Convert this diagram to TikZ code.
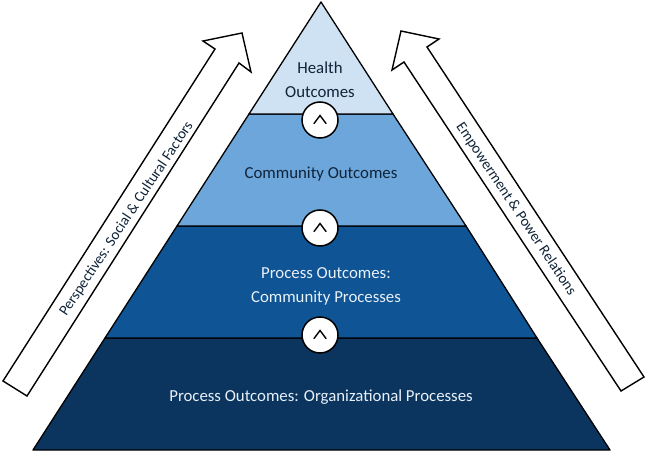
\documentclass[tikz,border=0pt]{standalone}
\usepackage{fontspec}
\setmainfont{Carlito}
\definecolor{tierA}{HTML}{CFE2F3}
\definecolor{tierB}{HTML}{6CA6DA}
\definecolor{tierC}{HTML}{0F5495}
\definecolor{tierD}{HTML}{0B355F}
\definecolor{inkDark}{HTML}{10243A}
\definecolor{inkLight}{HTML}{E8F0F8}
\tikzset{
  px/.style={x=1pt,y=-1pt},
  tier/.style={draw=black,line width=1.3pt,line join=round},
  sidearrow/.style={draw=black,fill=white,line width=1.4pt,line join=miter},
  link/.style={circle,draw=black,fill=white,line width=1.5pt,minimum size=36pt,inner sep=0pt},
  caret/.style={draw=black,line width=1.4pt,line cap=round,line join=miter},
  tiertext/.style={font=\fontsize{16.8}{18}\selectfont,align=center,inner sep=0pt},
  sidetext/.style={font=\fontsize{14.9}{18}\selectfont,text=inkDark,inner sep=0pt}
}
\begin{document}
\begin{tikzpicture}[px]
\useasboundingbox (0,0) rectangle (648,454);
% pyramid tiers, base upward
\path[tier,fill=tierD] (33,450) -- (105,338) -- (537,338) -- (610,450) -- cycle;
\path[tier,fill=tierC] (105,338) -- (177,226) -- (466,226) -- (537,338) -- cycle;
\path[tier,fill=tierB] (177,226) -- (249,114) -- (393,114) -- (466,226) -- cycle;
\path[tier,fill=tierA] (249,114) -- (321,2) -- (393,114) -- cycle;
% side arrows
\path[sidearrow] (3,381) -- (215,49) -- (203,41) -- (242,33) -- (251,72) -- (239,63) -- (27,396) -- cycle;
\path[sidearrow] (644,377) -- (427,47) -- (439,39) -- (401,31) -- (392,70) -- (404,62) -- (621,391) -- cycle;
% tier labels
\node[tiertext,text=inkDark] (health) at (320,80) {Health\\[6pt]Outcomes};
\node[tiertext,text=inkDark] (community) at (321,174) {Community Outcomes};
\node[tiertext,text=inkLight] (commproc) at (326,286) {Process Outcomes:\\[6pt]Community Processes};
\node[tiertext,text=inkLight] (orgproc) at (321,397.5) {Process Outcomes: Organizational Processes};
% side labels
\node[sidetext,rotate=56.5] (perspectives) at (126.5,219) {Perspectives: Social \& Cultural Factors};
\node[sidetext,rotate=-56.2] (empowerment) at (516,209) {Empowerment \& Power Relations};
% links between tiers
\node[link] (l1) at (320,120) {};
\node[link] (l2) at (320,228) {};
\node[link] (l3) at (320,335) {};
\foreach \n in {l1,l2,l3}
  \draw[caret] ([shift={(-6,3.5)}]\n.center) -- ([shift={(0,-4.5)}]\n.center) -- ([shift={(6,3.5)}]\n.center);
\end{tikzpicture}
\end{document}
